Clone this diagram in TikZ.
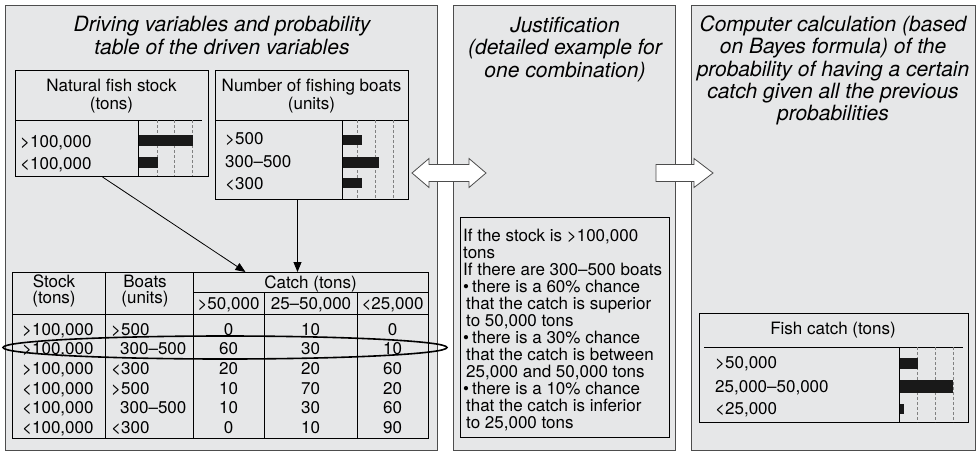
\documentclass[tikz,border=0pt]{standalone}
\usepackage{fontspec}
\setmainfont{TeX Gyre Heros}
\usetikzlibrary{positioning,arrows.meta,matrix}

\definecolor{paper}{HTML}{E6E7E8}
\definecolor{rim}{HTML}{4D4D4D}

\begin{document}
\begin{tikzpicture}[
    x=1pt, y=-1pt,
    font=\fontsize{17}{17}\selectfont,
    panel/.style={draw=rim, fill=paper, line width=1pt, anchor=north west, inner sep=0pt},
    ttl/.style={font=\fontsize{21}{22.3}\selectfont\itshape, align=center},
    box/.style={draw=black, fill=paper, line width=1pt, anchor=north west, inner sep=0pt},
    hdr/.style={align=center, inner sep=0pt, font=\fontsize{17}{18}\selectfont},
    cell/.style={inner sep=0pt, text height=12pt, text depth=0pt},
    lbl/.style={cell, anchor=west},
    barfill/.style={fill=black!90},
    gline/.style={densely dashed, gray, line width=0.4pt},
    conn/.style={-{Triangle[length=10pt,width=8pt]}, line width=0.8pt},
    fat/.style={draw=rim, fill=white, line width=0.8pt, line join=miter},
    tabl/.style={matrix of nodes, inner sep=0pt, anchor=north west, row sep=0pt, column sep=0pt,
        nodes={cell, minimum height=19.6pt, anchor=center},
        column 1/.style={nodes={text width=73pt, inner xsep=10pt, align=left}},
        column 2/.style={nodes={text width=76pt, inner xsep=6pt, align=left}},
        column 3/.style={nodes={minimum width=71pt}},
        column 4/.style={nodes={minimum width=93pt}},
        column 5/.style={nodes={minimum width=71pt}}}
]
    \useasboundingbox (0,0) rectangle (978,451);

    % Panels
    \node[panel, minimum width=432pt, minimum height=445pt] (drv) at (5,5) {};
    \node[panel, minimum width=222pt, minimum height=445pt] (just) at (453,5) {};
    \node[panel, minimum width=284pt, minimum height=445pt] (comp) at (691,5) {};

    \node[ttl] (drvname) at (222,35.5) {Driving variables and probability\\table of the driven variables};
    \node[ttl] (justname) at (565,49.5) {Justification\\(detailed example for\\one combination)};
    \node[ttl] (compname) at (833,70.5) {Computer calculation (based\\on Bayes formula) of the\\probability of having a certain\\catch given all the previous\\probabilities};

    % Natural fish stock
    \node[box, minimum width=193pt, minimum height=106pt] (stock) at (15,70) {};
    \node[hdr] (stockname) at (111.5,96.5) {Natural fish stock\\(tons)};
    \draw (15,120) -- (202,120);
    \draw[gline] (157,120) -- (157,176);
    \draw[gline] (174,120) -- (174,176);
    \draw[gline] (192,120) -- (192,176);
    \fill[barfill] (138,135) rectangle (193,146);
    \fill[barfill] (138,157) rectangle (158,168);
    \draw (138,120) -- (138,176);
    \node[lbl] (s1) at (20,141) {>100,000};
    \node[lbl] (s2) at (20,163) {<100,000};

    % Number of fishing boats
    \node[box, minimum width=193pt, minimum height=129pt] (boats) at (215,70) {};
    \node[hdr] (boatsname) at (311.5,96.5) {Number of fishing boats\\(units)};
    \draw (215,120) -- (408,120);
    \draw[gline] (357,120) -- (357,199);
    \draw[gline] (375,120) -- (375,199);
    \draw[gline] (393,120) -- (393,199);
    \fill[barfill] (342,135) rectangle (362,145);
    \fill[barfill] (342,157) rectangle (379,168);
    \fill[barfill] (342,178) rectangle (362,188);
    \draw (342,120) -- (342,199);
    \node[lbl] (b1) at (225,138) {>500};
    \node[lbl] (b2) at (225,161) {300--500};
    \node[lbl] (b3) at (225,183) {<300};

    % Probability table
    \node[box, minimum width=416pt, minimum height=166pt] (frame) at (12,272) {};
    \draw (193,292) -- (428,292);
    \draw (12,314) -- (428,314);
    \draw (105,272) -- (105,438);
    \draw (193,272) -- (193,438);
    \draw (264,292) -- (264,438);
    \draw (357,292) -- (357,438);
    \node[hdr, font=\fontsize{17}{15.5}\selectfont] (shead) at (54,291) {Stock\\(tons)};
    \node[hdr, font=\fontsize{17}{15.5}\selectfont] (bhead) at (145,291) {Boats\\(units)};
    \node[cell] (chead) at (310.5,282) {Catch (tons)};
    \node[cell] (c1) at (228.5,303) {>50,000};
    \node[cell] (c2) at (311,303) {25--50,000};
    \node[cell] (c3) at (392.5,303) {<25,000};

    \matrix (T) [tabl] at (12,319.2) {
        >100,000 & >500 & 0 & 10 & 0 \\
        >100,000 & \hspace*{9pt}300--500 & 60 & 30 & 10 \\
        >100,000 & <300 & 20 & 20 & 60 \\
        <100,000 & >500 & 10 & 70 & 20 \\
        <100,000 & \hspace*{9pt}300--500 & 10 & 30 & 60 \\
        <100,000 & <300 & 0 & 10 & 90 \\
    };

    % Driving arrows
    \draw[conn] ([xshift=-9.5pt]stock.south) -- ([xshift=25pt]frame.north);
    \draw[conn] ([xshift=-14.5pt]boats.south) -- ([xshift=-14.5pt]boats.south |- frame.north);

    % Chosen combination
    \draw[line width=1.6pt] (225,347.5) ellipse [x radius=222pt, y radius=11.5pt];

    % Justification text
    \node[box, minimum width=209pt, minimum height=220pt] (jbox) at (460,217) {};
    \node[anchor=north west, inner sep=0pt, align=left] (jtext) at (463,229) {%
        If the stock is >100,000\\
        tons\\
        If there are 300--500 boats\\
        \textbullet\hspace{3pt}there is a 60\% chance\\
        \hspace*{3pt}that the catch is superior\\
        \hspace*{3pt}to 50,000 tons\\
        \textbullet\hspace{3pt}there is a 30\% chance\\
        \hspace*{3pt}that the catch is between\\
        \hspace*{3pt}25,000 and 50,000 tons\\
        \textbullet\hspace{3pt}there is a 10\% chance\\
        \hspace*{3pt}that the catch is inferior\\
        \hspace*{3pt}to 25,000 tons};

    % Fish catch
    \node[box, minimum width=269pt, minimum height=109pt] (fcatch) at (699,313) {};
    \node[cell] (catchname) at (833,328) {Fish catch (tons)};
    \draw (704,347) -- (963,347);
    \draw[gline] (917,347) -- (917,422);
    \draw[gline] (935,347) -- (935,422);
    \draw[gline] (953,347) -- (953,422);
    \fill[barfill] (899,358) rectangle (918,369);
    \fill[barfill] (899,380) rectangle (953,393);
    \fill[barfill] (899,404) rectangle (904,414);
    \draw (899,347) -- (899,422);
    \node[lbl] (f1) at (715,362) {>50,000};
    \node[lbl] (f2) at (715,386) {25,000--50,000};
    \node[lbl] (f3) at (715,408) {<25,000};

    % Panel arrows
    \draw[fat] (412,173) -- (429,158.5) -- (429,164.5) -- (469,164.5) -- (469,158.5)
        -- (486,173) -- (469,187.5) -- (469,181.5) -- (429,181.5) -- (429,187.5) -- cycle;
    \draw[fat] (656,164.5) -- (694,164.5) -- (694,158.5) -- (713,173)
        -- (694,187.5) -- (694,181.5) -- (656,181.5) -- cycle;

\end{tikzpicture}
\end{document}
